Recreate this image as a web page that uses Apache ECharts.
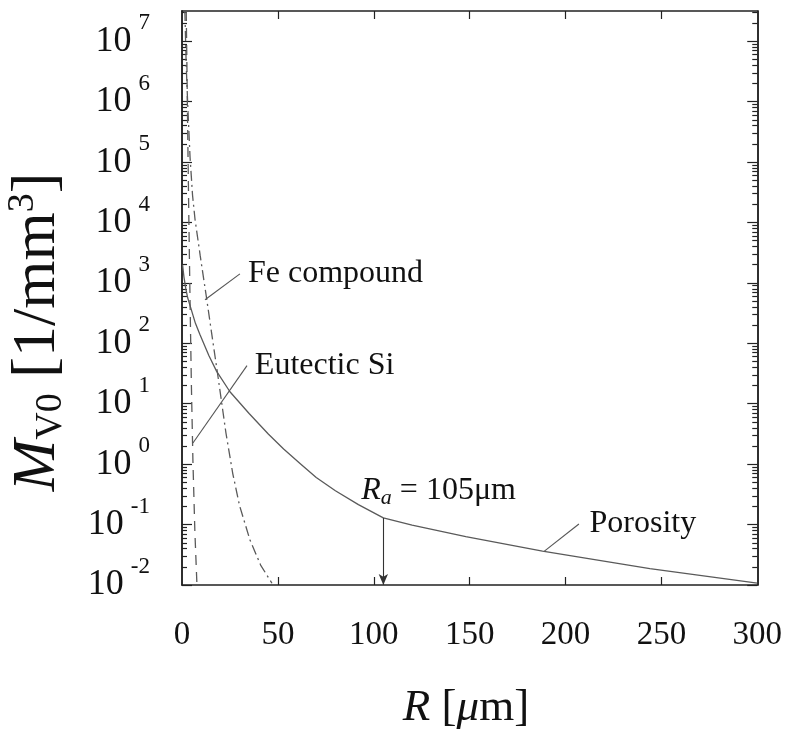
<!DOCTYPE html>
<html><head><meta charset="utf-8">
<script src="https://cdn.jsdelivr.net/npm/echarts@6/dist/echarts.min.js"></script>
<style>html,body{margin:0;padding:0;background:#fff}#c{width:785px;height:737px}</style>
</head><body><div id="c"></div>
<script>
// ---- data (R in micrometres, M_V0 in 1/mm^3) ----
const porosityR = [0.3, 1, 2, 3, 5, 7, 9.4, 14, 18, 25, 35, 45, 53, 62, 70, 80, 92, 105, 120, 148, 188, 244, 300];
const porosityM = [1995, 1259, 794, 562, 347, 214, 138, 63, 34.7, 15.8, 6.9, 3.16, 1.78, 1.0, 0.603, 0.363, 0.214, 0.129, 0.0977, 0.0631, 0.0363, 0.0186, 0.0107];
const feR = [1.5, 2.2, 3.1, 4.2, 5.5, 6.8, 9.5, 12.8, 16, 19, 22.9, 26.5, 30, 35.4, 41, 46.9];
const feM = [3.16e7, 3.98e6, 7.24e5, 1.2e5, 2.82e4, 1.12e4, 2818, 562, 112, 25.1, 3.31, 0.692, 0.207, 0.0562, 0.0214, 0.0107];
const siR = [2.2, 2.6, 3.1, 3.6, 4.2, 4.9, 5.7, 6.7, 7.8];
const siM = [3.16e7, 3.16e6, 1.58e5, 1.0e4, 501, 20, 1.12, 0.079, 0.01];
const xTicks = [0, 50, 100, 150, 200, 250, 300];
const yExponents = [-2, -1, 0, 1, 2, 3, 4, 5, 6, 7];
const Ra = 105;
const RaM = 0.129;

const lg = v => Math.log10(v);
const pairs = (r, m) => r.map((x, i) => [x, lg(m[i])]);
const yMin = -2, yMax = 7.5;
const minorY = [];
yExponents.forEach(n => { for (let k = 2; k <= 9; k++) { const v = n + lg(k); if (v < yMax) minorY.push(v); } });
const innerX = xTicks.slice(1, -1);

const serif = '"Liberation Serif", "Times New Roman", serif';
const curveColor = '#5a5a5a';
const axisColor = '#222';
const txt = '#111';

function yAx(pos, ticks, len, labels) {
  return {
    type: 'value', position: pos, min: yMin, max: yMax,
    axisLine: { show: true, onZero: false, lineStyle: { color: axisColor, width: 1.5 } },
    axisTick: { show: true, inside: true, length: len, customValues: ticks, lineStyle: { color: axisColor, width: 1.2 } },
    axisLabel: labels ? {
      show: true, margin: 32, customValues: yExponents,
      formatter: v => '{b|10}{s|' + Math.round(v) + '}',
      rich: {
        b: { fontFamily: serif, fontSize: 36, color: txt },
        s: { fontFamily: serif, fontSize: 23, color: txt, padding: [0, 0, 36, 7] }
      }
    } : { show: false },
    splitLine: { show: false }
  };
}
function xAx(pos, labels) {
  return {
    type: 'value', position: pos, min: 0, max: 300, interval: 50,
    axisLine: { show: true, onZero: false, lineStyle: { color: axisColor, width: 1.5 } },
    axisTick: { show: true, inside: true, length: 8, customValues: innerX, lineStyle: { color: axisColor, width: 1.2 } },
    axisLabel: labels ? { show: true, margin: 34, customValues: xTicks, fontFamily: serif, fontSize: 33, color: txt } : { show: false },
    splitLine: { show: false }
  };
}

const option = {
  animation: false,
  backgroundColor: '#fff',
  grid: { left: 182, right: 27, top: 11, bottom: 152 },
  xAxis: [xAx('bottom', true), xAx('top', false)],
  yAxis: [
    yAx('left', yExponents, 10, true),
    yAx('left', minorY, 5, false),
    yAx('right', yExponents, 10, false),
    yAx('right', minorY, 5, false)
  ],
  series: [
    {
      name: 'Porosity', type: 'line', data: pairs(porosityR, porosityM), showSymbol: false, clip: true,
      smooth: false,
      lineStyle: { color: curveColor, width: 1.3, join: 'round' },
      markLine: {
        silent: true, symbol: ['none', 'arrow'], symbolSize: [7, 11], animation: false,
        lineStyle: { color: '#333', width: 1.1, type: 'solid' }, label: { show: false },
        data: [[{ coord: [Ra, lg(RaM)] }, { coord: [Ra, yMin] }]]
      }
    },
    {
      name: 'Fe compound', type: 'line', data: pairs(feR, feM), showSymbol: false, clip: true,
      smooth: false,
      lineStyle: { color: curveColor, width: 1.3, type: [10, 4, 2, 4] }
    },
    {
      name: 'Eutectic Si', type: 'line', data: pairs(siR, siM), showSymbol: false, clip: true,
      smooth: false,
      lineStyle: { color: curveColor, width: 1.3, type: [10, 7] }
    },
    {
      name: 'leaders', type: 'line', data: [], showSymbol: false,
      markLine: {
        silent: true, symbol: ['none', 'none'], animation: false,
        lineStyle: { color: '#555', width: 1.1, type: 'solid' }, label: { show: false },
        data: [
          [{ coord: [12, 2.72] }, { coord: [30.2, 3.15] }],
          [{ coord: [5.7, 0.35] }, { coord: [33.9, 1.63] }],
          [{ coord: [189, -1.44] }, { coord: [207, -0.99] }]
        ]
      }
    },
    {
      name: 'labels', type: 'scatter', symbolSize: 0, silent: true,
      itemStyle: { opacity: 1 },
      label: {
        show: true, position: 'right', distance: 0,
        formatter: p => p.data.t,
        rich: {
          n: { fontFamily: serif, fontSize: 32, color: txt },
          i: { fontFamily: serif, fontStyle: 'italic', fontSize: 32, color: txt },
          sub: { fontFamily: serif, fontStyle: 'italic', fontSize: 22, color: txt, padding: [14, 0, 0, 0] }
        }
      },
      data: [
        { value: [34.4, 3.15], t: '{n|Fe compound}' },
        { value: [38, 1.63], t: '{n|Eutectic Si}' },
        { value: [93.5, -0.44], t: '{i|R}{sub|a}{n| = 105μm}' },
        { value: [212.5, -0.99], t: '{n|Porosity}' }
      ]
    }
  ],
  graphic: [
    {
      type: 'text', x: 466, y: 708,
      style: {
        text: '{i|R}{n| [}{i|μ}{n|m]}', align: 'center', verticalAlign: 'middle',
        rich: {
          i: { fontFamily: serif, fontStyle: 'italic', fontSize: 45, fill: txt },
          n: { fontFamily: serif, fontSize: 45, fill: txt }
        }
      }
    },
    {
      type: 'text', x: 38, y: 332, rotation: Math.PI / 2,
      style: {
        text: '{i|M}{sub|V0}{n| [1/mm}{sup|3}{n|]}', align: 'center', verticalAlign: 'middle',
        rich: {
          i: { fontFamily: serif, fontStyle: 'italic', fontSize: 62, fill: txt },
          sub: { fontFamily: serif, fontSize: 38, fill: txt, padding: [26, 0, 0, 0] },
          n: { fontFamily: serif, fontSize: 62, fill: txt },
          sup: { fontFamily: serif, fontSize: 38, fill: txt, padding: [0, 0, 30, 0] }
        }
      }
    }
  ]
};
echarts.init(document.getElementById('c'), null, { renderer: 'canvas' }).setOption(option);
</script>
</body></html>
